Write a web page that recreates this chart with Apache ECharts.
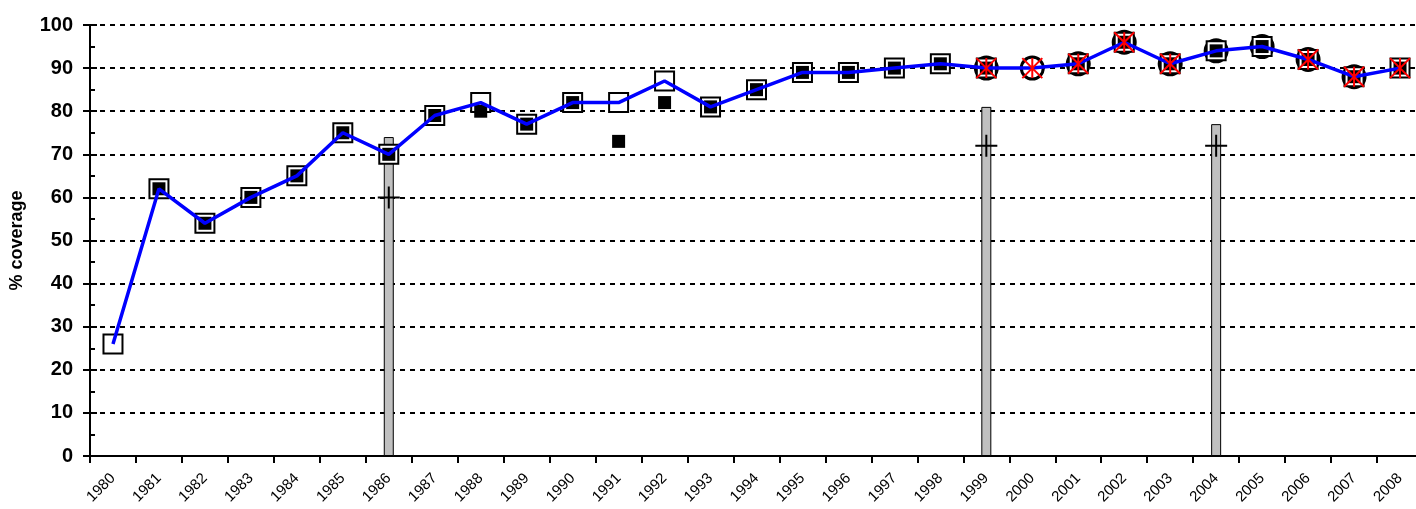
<!DOCTYPE html>
<html>
<head>
<meta charset="utf-8">
<script src="https://cdn.jsdelivr.net/npm/echarts@6/dist/echarts.min.js"></script>
<style>
html,body{margin:0;padding:0;background:#fff;overflow:hidden;width:1416px;height:509px;}
#chart{width:1423px;height:509px;}
</style>
</head>
<body>
<div id="chart"></div>
<script>
const years = ['1980','1981','1982','1983','1984','1985','1986','1987','1988','1989','1990','1991','1992','1993','1994','1995','1996','1997','1998','1999','2000','2001','2002','2003','2004','2005','2006','2007','2008'];
const yTicks = [0,10,20,30,40,50,60,70,80,90,100];
// blue line estimate
const lineValues = [26,62,54,60,65,75,70,79,82,77,82,82,87,81,85,89,89,90,91,90,90,91,96,91,94,95,92,88,90];
// open squares
const openSquares = [26,62,54,60,65,75,70,79,82,77,82,82,87,81,85,89,89,90,91,90,'-',91,96,91,94,95,92,88,90];
// filled squares
const filledSquares = ['-',62,54,60,65,75,70,79,80,77,82,73,82,81,85,89,89,90,91,90,'-',91,96,91,94,95,92,88,90];
// circles
const circles = ['-','-','-','-','-','-','-','-','-','-','-','-','-','-','-','-','-','-','-',90,90,91,96,91,94,95,92,88,'-'];
// red stars
const stars = ['-','-','-','-','-','-','-','-','-','-','-','-','-','-','-','-','-','-','-',90,90,91,96,91,'-','-',92,88,90];
// survey bars
const surveyBars = ['-','-','-','-','-','-',74,'-','-','-','-','-','-','-','-','-','-','-','-',81,'-','-','-','-',77,'-','-','-','-'];
// crosses
const crosses = ['-','-','-','-','-','-',60,'-','-','-','-','-','-','-','-','-','-','-','-',72,'-','-','-','-',72,'-','-','-','-'];

const FONT = "'Liberation Sans', Arial, sans-serif";
const chart = echarts.init(document.getElementById('chart'));
chart.setOption({
  animation: false,
  backgroundColor: '#fff',
  grid: {left: 89, top: 25, right: 0, bottom: 53, containLabel: false},
  xAxis: {
    type: 'category',
    data: years,
    boundaryGap: true,
    axisLine: {lineStyle: {color: '#000', width: 2}},
    axisTick: {show: true, interval: 0, length: 7, lineStyle: {color: '#000', width: 2}},
    axisLabel: {interval: 0, rotate: 45, margin: 20, color: '#000', fontSize: 15, fontFamily: FONT},
    splitLine: {show: false}
  },
  yAxis: [{
    type: 'value',
    min: 0, max: 100, interval: 10,
    name: '% coverage',
    nameLocation: 'middle',
    nameGap: 64,
    nameTextStyle: {color: '#000', fontSize: 18, fontWeight: 'bold', fontFamily: FONT},
    axisLine: {show: true, lineStyle: {color: '#000', width: 2}},
    axisTick: {show: true, length: 7, lineStyle: {color: '#000', width: 2}},
    axisLabel: {color: '#000', fontSize: 20, fontWeight: 'bold', fontFamily: FONT, margin: 17,
      formatter: v => yTicks.includes(v) ? String(v) : ''},
    splitLine: {show: true, lineStyle: {color: '#000', width: 2, type: [5, 5]}}
  }, {
    type: 'value',
    position: 'left',
    min: 0, max: 100, interval: 10,
    axisLine: {show: true, lineStyle: {color: '#000', width: 2}},
    axisTick: {show: true, inside: true, length: 7, lineStyle: {color: '#000', width: 2}},
    minorTick: {show: true, splitNumber: 2, length: 5, lineStyle: {color: '#000', width: 2}},
    axisLabel: {show: false},
    splitLine: {show: false}
  }],
  series: [
    {type: 'bar', data: surveyBars, barWidth: 10, z: 1,
      itemStyle: {color: '#c0c0c0', borderColor: '#000', borderWidth: 1}},
    {type: 'scatter', data: circles, symbol: 'circle', symbolSize: 22, z: 2,
      itemStyle: {color: '#fff', borderColor: '#000', borderWidth: 3, opacity: 1}},
    {type: 'scatter', data: openSquares, symbol: 'rect', symbolSize: 19, z: 3,
      itemStyle: {color: '#fff', borderColor: '#000', borderWidth: 2, opacity: 1}},
    {type: 'scatter', data: filledSquares, symbol: 'rect', symbolSize: 13, z: 4,
      itemStyle: {color: '#000', opacity: 1}},
    {type: 'line', data: lineValues, symbol: 'none', z: 5,
      lineStyle: {color: '#0000ff', width: 3.5}},
    {type: 'scatter', data: stars, symbol: 'path://M0,0L10,10M10,0L0,10M5,0L5,10', symbolSize: 20, z: 6,
      itemStyle: {color: 'rgba(0,0,0,0)', borderColor: '#ff0000', borderWidth: 2, opacity: 1}},
    {type: 'scatter', data: crosses, symbol: 'path://M0,5L10,5M5,0L5,10', symbolSize: 22, z: 7,
      itemStyle: {color: 'rgba(0,0,0,0)', borderColor: '#000', borderWidth: 2, opacity: 1}}
  ]
});
</script>
</body>
</html>
